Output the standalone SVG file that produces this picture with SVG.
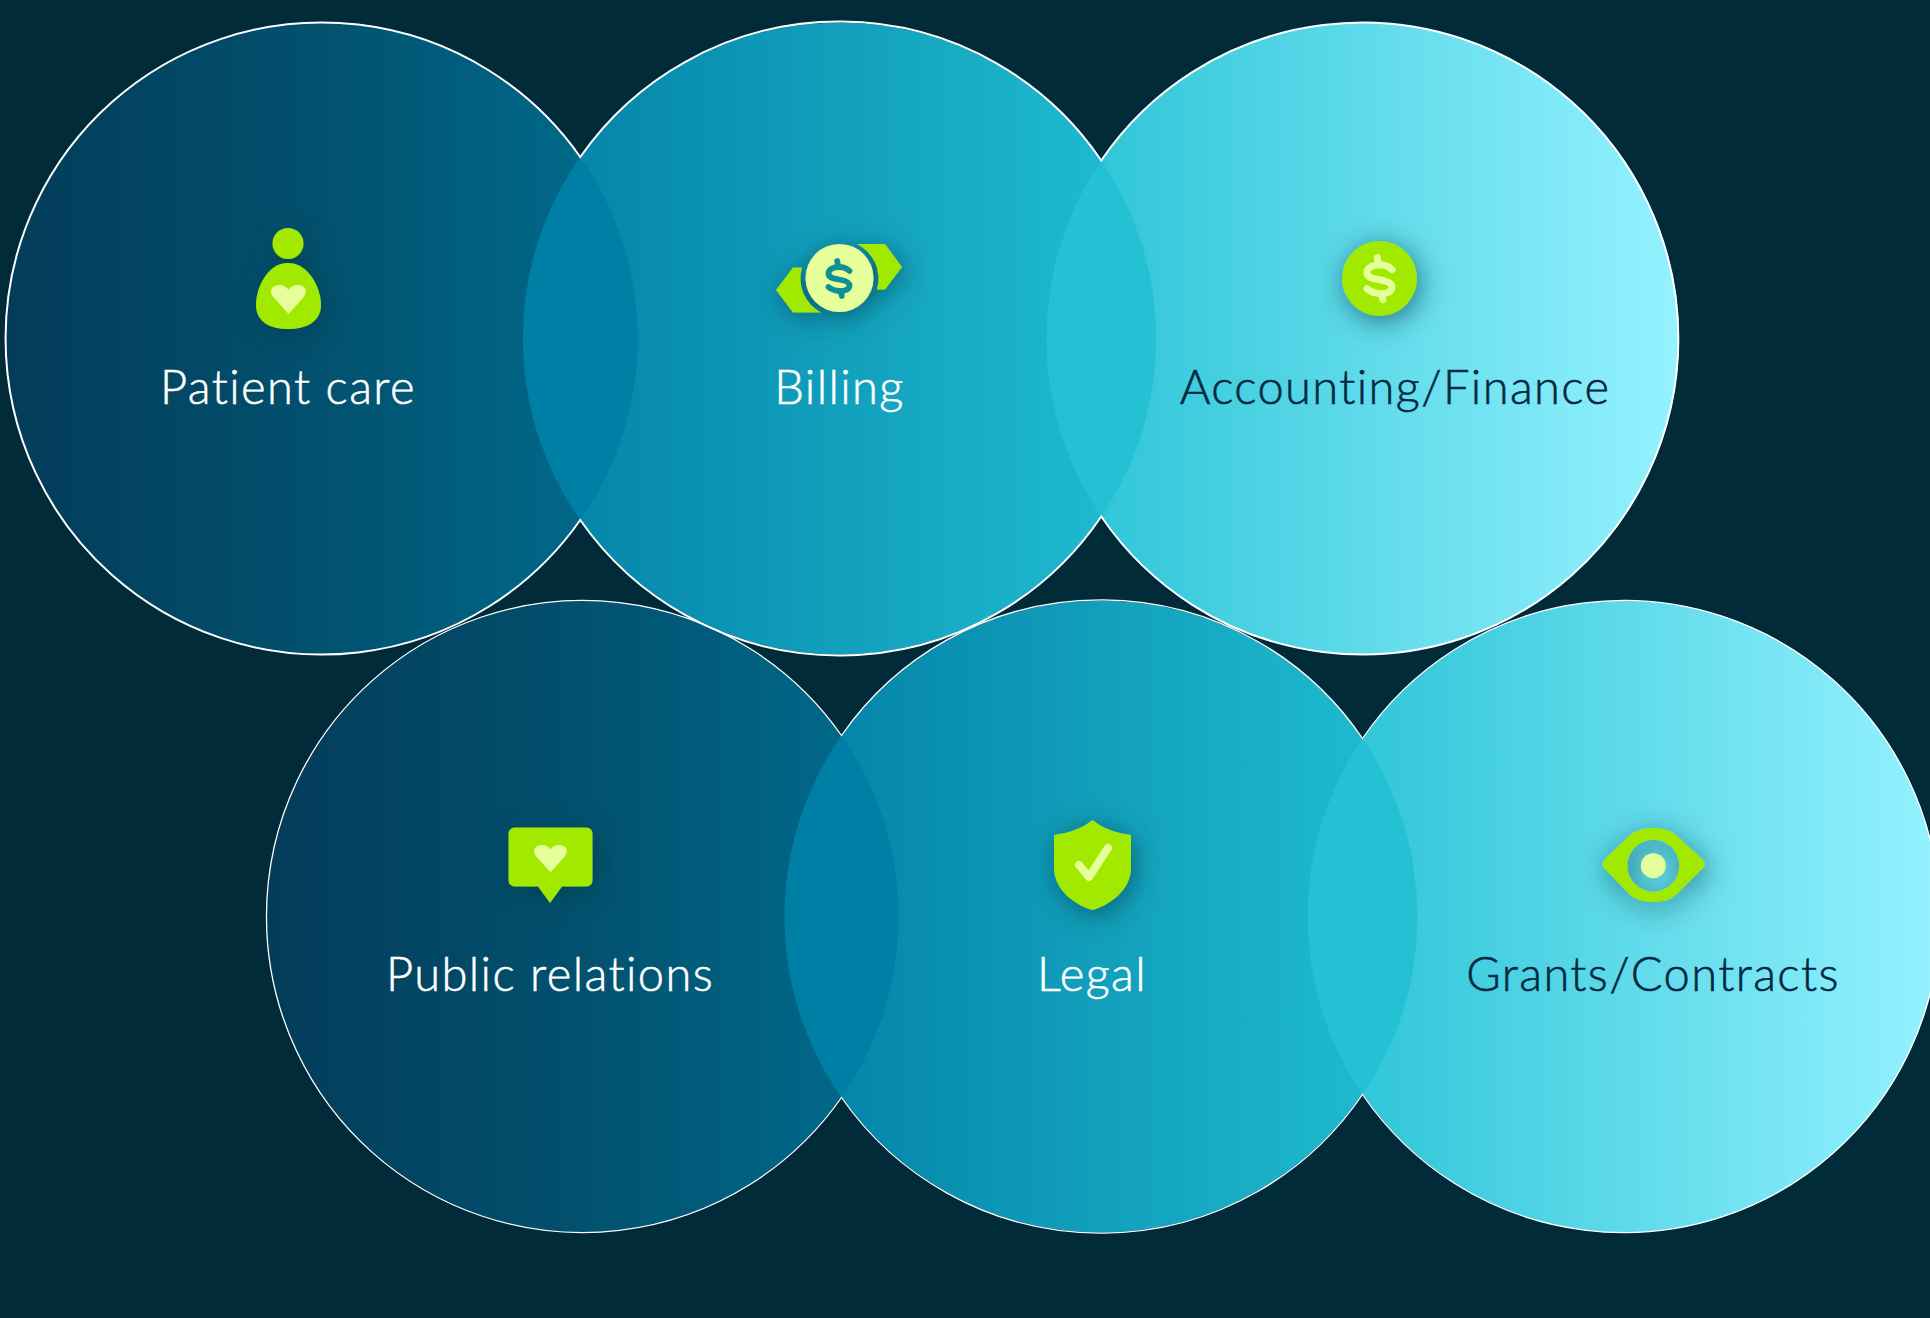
<svg xmlns="http://www.w3.org/2000/svg" width="1930" height="1318" viewBox="0 0 1930 1318">
<style>
.lbl{font-family:"Lato","Noto Sans",sans-serif;font-size:47px;font-weight:300;text-anchor:middle;letter-spacing:1.4px;stroke-width:.55px}
.w{fill:#fff;stroke:#fff}.d{fill:#03283f;stroke:#03283f}
.g{fill:#a2e900}.p{fill:#e5ff9b}
.outline{fill:none;stroke:#fff}
</style>
<defs>
<linearGradient id="ga" x1="0" x2="1" y1="0" y2="0"><stop offset="0" stop-color="#033c59"/><stop offset=".5" stop-color="#02516f"/><stop offset="1" stop-color="#006d8e"/></linearGradient>
<linearGradient id="gb" x1="0" x2="1" y1="0" y2="0"><stop offset="0" stop-color="#0280a6"/><stop offset="1" stop-color="#21bfd2"/></linearGradient>
<linearGradient id="gc" x1="0" x2="1" y1="0" y2="0"><stop offset="0" stop-color="#27c2d5"/><stop offset="1" stop-color="#95f2ff"/></linearGradient>
<filter id="sh" x="-80%" y="-80%" width="260%" height="260%"><feDropShadow dx="3" dy="5" stdDeviation="14" flood-color="#003c45" flood-opacity=".65"/></filter>
<path id="heart" d="M0 29 L-14 13.500 C-21 5.500 -16 0 -9 0 C-5 0 -1.500 2 0 5 C1.500 2 5 0 9 0 C16 0 21 5.500 14 13.500 Z"/>
<g id="dollar" fill="none" stroke-width="5.800" stroke-linecap="round" stroke-linejoin="round">
<path d="M10.500 -7 C7.500 -10 4 -11 0 -11 C-6 -11 -10.500 -8.500 -10.500 -4.500 C-10.500 0 -5 .5 0 1.500 C6 2.500 10.500 4 10.500 7.500 C10.500 11.500 5.500 13.500 0 13 C-4 12.500 -8 11.500 -10.500 9"/>
<path d="M-1.800 -17 L-.8 -11 M1.800 13 L2.800 18"/>
</g>
</defs>
<rect width="1930" height="1318" fill="#022b3a"/>
<g id="node-patient-care">
<circle cx="321" cy="338.500" r="316" fill="url(#ga)"/>
<g filter="url(#sh)"><circle class="g" cx="288" cy="243.500" r="15.500"/>
<path class="g" d="M288 263 C308 263 321 287 321 305 C321 322 306 329 288 329 C270 329 256 322 256 305 C256 287 268 263 288 263Z"/></g>
<use href="#heart" class="p" x="288.500" y="285"/>
<text class="lbl w" x="288" y="403.500">Patient care</text>
</g>
<g id="node-billing">
<circle cx="839.500" cy="338.500" r="316" fill="url(#gb)"/>
<g filter="url(#sh)">
<path class="g" d="M776 290 L793 267.500 L802 267.500 A38.500 38.500 0 0 0 821 312.500 L793 312.500Z"/>
<path class="g" d="M857 244 L885 244 L902 267 L885 289.500 L877 289.500 A38.500 38.500 0 0 0 857 244Z"/>
<circle class="p" cx="839.500" cy="278" r="34"/></g>
<use href="#dollar" x="839" y="278" stroke="#108f98"/>
<text class="lbl w" x="839.500" y="403.500">Billing</text>
</g>
<g id="node-accounting-finance">
<circle cx="1363" cy="338.500" r="316" fill="url(#gc)"/>
<circle class="g" cx="1379.500" cy="278.500" r="37.500" filter="url(#sh)"/>
<use href="#dollar" transform="translate(1379.500 278) scale(1.200)" stroke="#e5ff9b"/>
<text class="lbl d" x="1395" y="403.500">Accounting/Finance</text>
</g>
<g id="node-public-relations">
<circle cx="582" cy="916.500" r="316" fill="url(#ga)"/>
<path class="g" filter="url(#sh)" d="M514.500 827.500 H586.500 A6 6 0 0 1 592.500 833.500 V880.500 A6 6 0 0 1 586.500 886.500 H562 L550 903 L538 886.500 H514.500 A6 6 0 0 1 508.500 880.500 V833.500 A6 6 0 0 1 514.500 827.500Z"/>
<use href="#heart" class="p" transform="translate(550.500 845) scale(.94)"/>
<text class="lbl w" x="550" y="990.500">Public relations</text>
</g>
<g id="node-legal">
<circle cx="1101" cy="916.500" r="316" fill="url(#gb)"/>
<path class="g" filter="url(#sh)" d="M1092.500 820 C1102 828 1116 833 1131 835 V868 C1131 890 1110 905 1092.500 910 C1075 905 1054 890 1054 868 V835 C1069 833 1083 828 1092.500 820Z"/>
<path d="M1079 865 L1089 877 L1108 848" fill="none" stroke="#e5ff9b" stroke-width="8" stroke-linecap="round" stroke-linejoin="round"/>
<text class="lbl w" x="1092" y="990.500">Legal</text>
</g>
<g id="node-grants-contracts">
<circle cx="1624" cy="916.500" r="316" fill="url(#gc)"/>
<path class="g" fill-rule="evenodd" filter="url(#sh)" d="M1604 860 L1630 835 C1636 830 1645 828 1653 828 C1661 828 1670 830 1676 835 L1703 860 C1705.500 862.500 1705.500 866 1703 868 L1676 895 C1670 900 1661 902 1653 902 C1645 902 1636 900 1630 895 L1604 868 C1602 866 1602 862.500 1604 860Z M1679.300 865.700 A26 26 0 1 0 1627.300 865.700 A26 26 0 1 0 1679.300 865.700Z"/>
<circle class="p" cx="1653.300" cy="865.700" r="12.500"/>
<text class="lbl d" x="1653" y="990.500">Grants/Contracts</text>
</g>
<g id="overlaps">
<path fill="#007fa6" d="M580.250 157 A316 316 0 0 1 580.250 520 A316 316 0 0 1 580.250 157Z"/>
<path fill="#24c0d3" d="M1101.250 160.500 A316 316 0 0 1 1101.250 516.500 A316 316 0 0 1 1101.250 160.500Z"/>
<path fill="#007fa6" d="M841.500 735.500 A316 316 0 0 1 841.500 1097.500 A316 316 0 0 1 841.500 735.500Z"/>
<path fill="#24c0d3" d="M1362.500 738.500 A316 316 0 0 1 1362.500 1094.500 A316 316 0 0 1 1362.500 738.500Z"/>
</g>
<g id="connectors">
<path class="outline" stroke-width="2" d="M580.250 157 A316 316 0 0 1 1101.250 160.500 A316 316 0 1 1 1101.250 516.500 A316 316 0 0 1 580.250 520 A316 316 0 1 1 580.250 157Z"/>
<path class="outline" stroke-width="1.300" d="M841.500 735.500 A316 316 0 0 1 1362.500 738.500 A316 316 0 1 1 1362.500 1094.500 A316 316 0 0 1 841.500 1097.500 A316 316 0 1 1 841.500 735.500Z"/>
</g>
</svg>
